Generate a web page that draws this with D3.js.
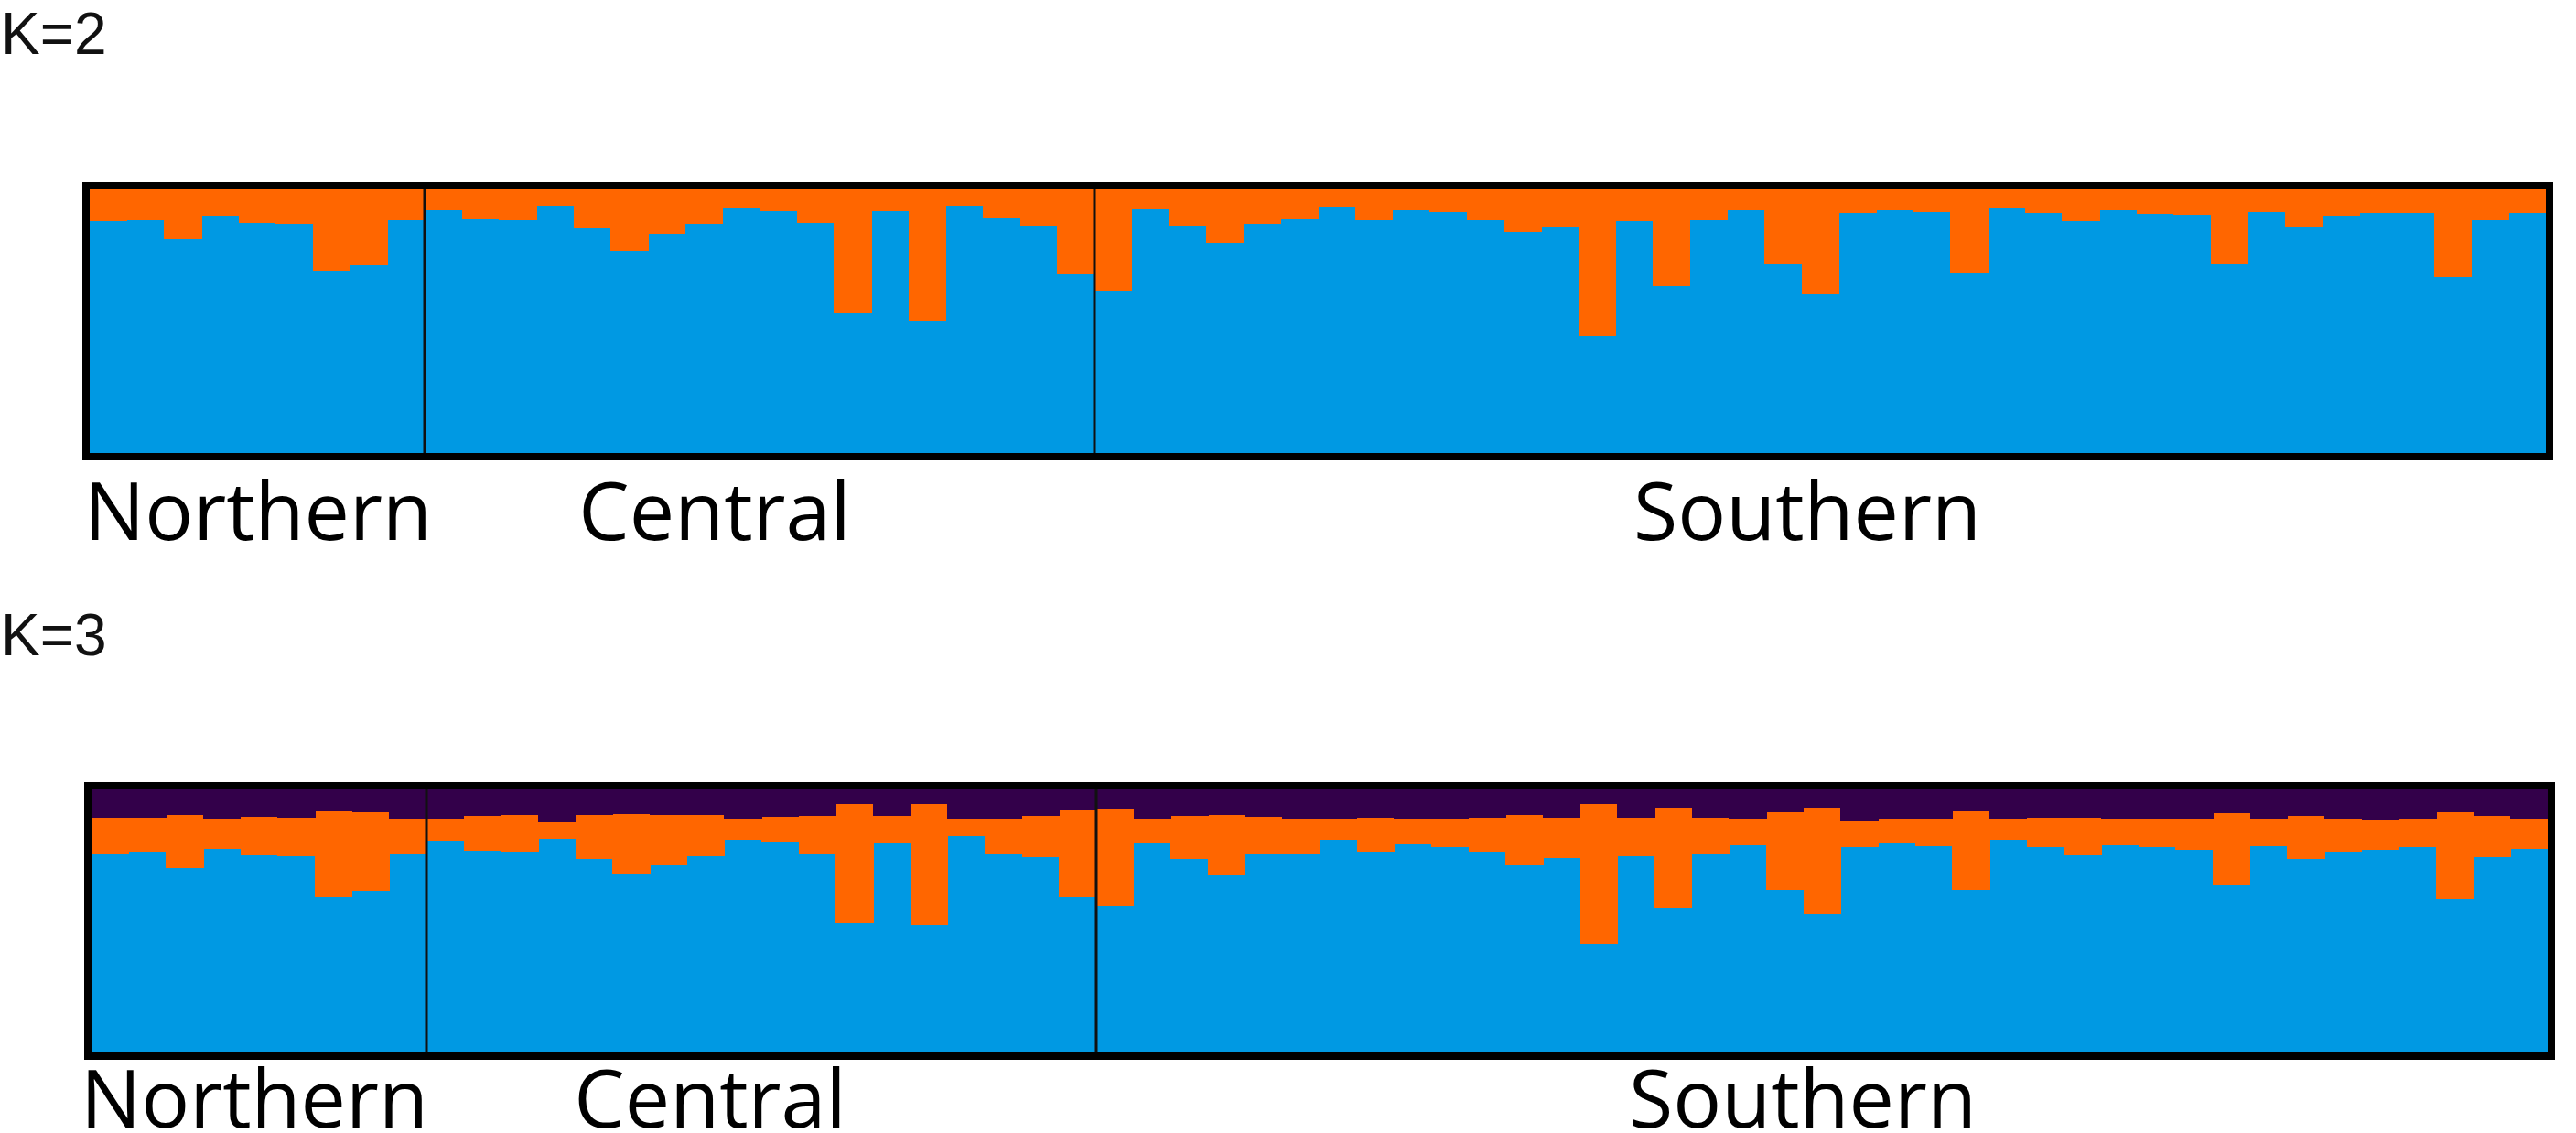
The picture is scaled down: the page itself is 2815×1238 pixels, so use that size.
<!DOCTYPE html>
<html>
<head>
<meta charset="utf-8">
<script src="https://cdn.jsdelivr.net/npm/d3@7"></script>
<style>
    body { margin: 0; background: #fff; }
    svg { display: block; }
</style>
</head>
<body>
<div id="chart"></div>
<script>
// population groups
const groupNames = ["Northern", "Central", "Southern"];
const groupSizes = [9, 18, 39];

// K=2 orange cluster membership per individual (blue = rest)
const k2Orange = [
    0.121, 0.116, 0.188, 0.100, 0.129, 0.133, 0.309, 0.289, 0.113,
    0.075, 0.110, 0.113, 0.061, 0.145, 0.231, 0.171, 0.133, 0.069, 0.084, 0.127, 0.468, 0.083, 0.500, 0.061, 0.106, 0.139, 0.321,
    0.385, 0.072, 0.139, 0.202, 0.133, 0.110, 0.066, 0.113, 0.079, 0.087, 0.113, 0.162, 0.142, 0.555, 0.121, 0.366, 0.116, 0.081, 0.281, 0.397,
    0.092, 0.075, 0.087, 0.315, 0.069, 0.092, 0.118, 0.081, 0.095, 0.098, 0.281, 0.087, 0.141, 0.102, 0.092, 0.092, 0.333, 0.113, 0.092
];

// K=3 purple and orange memberships (blue = rest)
const k3Purple = [
    0.112, 0.112, 0.098, 0.113, 0.106, 0.110, 0.083, 0.087, 0.113,
    0.116, 0.104, 0.102, 0.124, 0.098, 0.095, 0.096, 0.102, 0.116, 0.106, 0.104, 0.058, 0.104, 0.058, 0.116, 0.116, 0.104, 0.081,
    0.075, 0.116, 0.104, 0.096, 0.106, 0.116, 0.116, 0.110, 0.113, 0.116, 0.110, 0.102, 0.112, 0.055, 0.110, 0.073, 0.112, 0.116, 0.087, 0.073,
    0.121, 0.116, 0.113, 0.083, 0.116, 0.110, 0.112, 0.116, 0.116, 0.116, 0.092, 0.116, 0.104, 0.116, 0.118, 0.116, 0.087, 0.104, 0.113
];
const k3Orange = [
    0.134, 0.127, 0.199, 0.116, 0.145, 0.145, 0.327, 0.303, 0.133,
    0.081, 0.133, 0.139, 0.067, 0.168, 0.229, 0.193, 0.153, 0.079, 0.096, 0.142, 0.451, 0.102, 0.459, 0.061, 0.129, 0.153, 0.329,
    0.370, 0.090, 0.162, 0.231, 0.142, 0.129, 0.079, 0.129, 0.097, 0.102, 0.131, 0.187, 0.150, 0.531, 0.145, 0.378, 0.136, 0.095, 0.295, 0.401,
    0.102, 0.090, 0.102, 0.298, 0.079, 0.110, 0.139, 0.095, 0.106, 0.118, 0.272, 0.101, 0.162, 0.124, 0.116, 0.104, 0.329, 0.153, 0.116
];

const clusterColors = { blue: "#0099e3", orange: "#ff6600", purple: "#33004a" };

class StructurePlot {
    constructor(_svg, _title, _data, _keys, _layout) {
        this.svg = _svg;
        this.title = _title;
        this.data = _data;
        this.keys = _keys;
        this.layout = _layout;

        this.initVis();
    }

    initVis() {
        let vis = this;
        let L = vis.layout;

        vis.g = vis.svg.append("g");

        vis.g.append("text")
            .attr("x", 1)
            .attr("y", L.titleY)
            .attr("font-family", "Liberation Sans, Arial, sans-serif")
            .attr("font-size", 64)
            .attr("fill", "#111")
            .text(vis.title);

        vis.x = d3.scaleBand()
            .domain(d3.range(vis.data.length))
            .range([L.left, L.right])
            .paddingInner(0)
            .paddingOuter(0);

        vis.y = d3.scaleLinear()
            .domain([0, 1])
            .range([L.bottom, L.top]);

        vis.color = d3.scaleOrdinal()
            .domain(vis.keys)
            .range(vis.keys.map(k => clusterColors[k]));

        vis.updateVis();
    }

    updateVis() {
        let vis = this;
        let L = vis.layout;

        let series = d3.stack().keys(vis.keys)(vis.data);

        vis.g.selectAll(".layer")
            .data(series)
            .enter()
            .append("g")
            .attr("class", "layer")
            .attr("fill", d => vis.color(d.key))
            .selectAll("rect")
            .data(d => d)
            .enter()
            .append("rect")
            .attr("x", (d, i) => vis.x(i))
            .attr("width", vis.x.bandwidth() + 0.6)
            .attr("y", d => vis.y(d[1]))
            .attr("height", d => vis.y(d[0]) - vis.y(d[1]))
            .attr("shape-rendering", "crispEdges");

        // group dividers
        let cum = d3.cumsum(groupSizes);
        vis.g.selectAll(".divider")
            .data(cum.slice(0, -1))
            .enter()
            .append("line")
            .attr("class", "divider")
            .attr("x1", d => vis.x(d)).attr("x2", d => vis.x(d))
            .attr("y1", L.top).attr("y2", L.bottom)
            .attr("stroke", "#111")
            .attr("stroke-width", 3);

        // frame
        vis.g.append("rect")
            .attr("x", L.left - 4)
            .attr("y", L.top - 4)
            .attr("width", L.right - L.left + 8)
            .attr("height", L.bottom - L.top + 8)
            .attr("fill", "none")
            .attr("stroke", "#000")
            .attr("stroke-width", 8);

        // group labels
        vis.g.selectAll(".group-label")
            .data(groupNames)
            .enter()
            .append("text")
            .attr("class", "group-label")
            .attr("x", (d, i) => L.labelX[i])
            .attr("y", L.labelY)
            .attr("text-anchor", "middle")
            .attr("font-family", "Open Sans, sans-serif")
            .attr("font-size", 88)
            .attr("fill", "#000")
            .text(d => d);
    }
}

const width = 2815, height = 1238;

const svg = d3.select("#chart").append("svg")
    .attr("width", width)
    .attr("height", height);

svg.append("rect").attr("width", width).attr("height", height).attr("fill", "#fff");

let k2Data = k2Orange.map(o => ({ blue: 1 - o, orange: o }));
let k3Data = k3Orange.map((o, i) => ({ blue: 1 - o - k3Purple[i], orange: o, purple: k3Purple[i] }));

new StructurePlot(svg, "K=2", k2Data, ["blue", "orange"], {
    left: 98, right: 2782, top: 207, bottom: 495,
    titleY: 59, labelY: 590, labelX: [282, 781, 1975]
});

new StructurePlot(svg, "K=3", k3Data, ["blue", "orange", "purple"], {
    left: 100, right: 2784, top: 862, bottom: 1150,
    titleY: 716, labelY: 1232, labelX: [278, 776, 1970]
});
</script>
</body>
</html>
